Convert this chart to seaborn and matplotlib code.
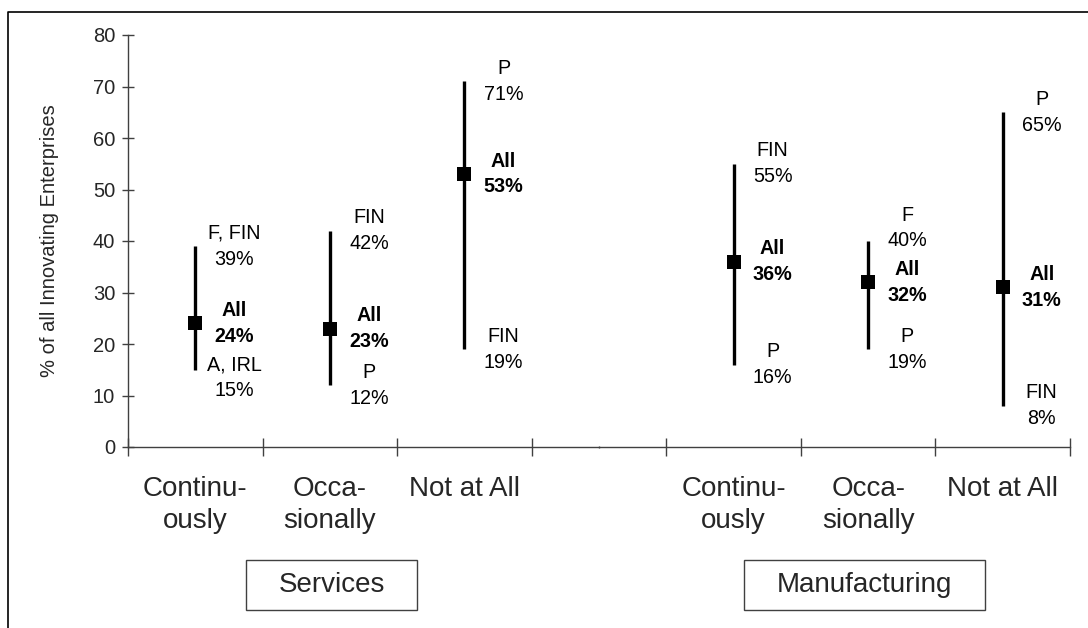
import numpy as np
import pandas as pd
import matplotlib
matplotlib.use("Agg")
import matplotlib.pyplot as plt
from matplotlib.patches import Rectangle
from matplotlib.lines import Line2D
import seaborn as sns

# ---------------- data ----------------
groups = ["Services", "Manufacturing"]
categories = ["Continu-\nously", "Occa-\nsionally", "Not at All"]
all_values = [24, 23, 53, 36, 32, 31]
high_values = [39, 42, 71, 55, 40, 65]
high_labels = ["F, FIN", "FIN", "P", "FIN", "F", "P"]
low_values = [15, 12, 19, 16, 19, 8]
low_labels = ["A, IRL", "P", "FIN", "P", "P", "FIN"]
y_ticks = [0, 10, 20, 30, 40, 50, 60, 70, 80]
y_label = "% of all Innovating Enterprises"

# ---------------- style ----------------
sns.set_theme(style="white")
plt.rcParams["font.family"] = ["Liberation Sans", "DejaVu Sans"]

W, H = 1088, 628
fig = plt.figure(figsize=(W / 100, H / 100), dpi=100)
ax = fig.add_axes([128 / W, 1 - 447 / H, 942 / W, 412 / H])

# x positions: each group has its categories, with one empty slot between groups
n_cat = len(categories)
positions = [g * (n_cat + 1) + c for g in range(len(groups)) for c in range(n_cat)]
df = pd.DataFrame({
    "x": positions,
    "all": all_values,
    "high": high_values,
    "low": low_values,
})

ax.vlines(df["x"], df["low"], df["high"], color="black", lw=2.4, zorder=2)
sns.scatterplot(data=df, x="x", y="all", marker="s", s=110, color="black",
                edgecolor="black", linewidth=0, ax=ax, zorder=3, legend=False)

# annotations
fs_ann = 14.2
dx = 0.29
min_sep = 10.5
for x, a, hv, hl, lv, ll in zip(positions, all_values, high_values, high_labels,
                                low_values, low_labels):
    ax.text(x + dx, a, f"All\n{a}%", ha="center", va="center", fontsize=fs_ann,
            fontweight="bold", linespacing=1.45, color="black")
    yh = max(hv, a + min_sep)
    ax.text(x + dx, yh, f"{hl}\n{hv}%", ha="center", va="center", fontsize=fs_ann,
            linespacing=1.45, color="black")
    yl = min(lv, a - min_sep)
    ax.text(x + dx, yl, f"{ll}\n{lv}%", ha="center", va="center", fontsize=fs_ann,
            linespacing=1.45, color="black")

# axes
total_slots = len(groups) * (n_cat + 1) - 1
ax.set_xlim(-0.5, total_slots - 0.5)
ax.set_ylim(0, 80)
ax.set_yticks(y_ticks)
ax.set_yticklabels([str(t) for t in y_ticks])

gap_pos = n_cat
major = sorted(list(np.arange(-0.5, total_slots, 1.0)) + [gap_pos])
ax.set_xticks(major)
ax.set_xticklabels([""] * len(major))
ax.set_xticks(positions, minor=True)
ax.set_xticklabels(categories * len(groups), minor=True)

for s in ["top", "right"]:
    ax.spines[s].set_visible(False)
for s in ["left", "bottom"]:
    ax.spines[s].set_color("#404040")
    ax.spines[s].set_linewidth(1.0)

ax.tick_params(axis="y", which="major", direction="inout", length=8.6, width=1,
               color="#404040", labelsize=14.5, pad=5, left=True)
ax.tick_params(axis="x", which="major", direction="inout", length=12.5, width=1,
               color="#404040", bottom=True)
ax.tick_params(axis="x", which="minor", length=0, labelsize=20, pad=21, bottom=True)
for lab in ax.get_xticklabels(minor=True):
    lab.set_linespacing(1.3)

# tiny tick in the gap
for t, v in zip(ax.xaxis.get_major_ticks(), major):
    if v == gap_pos:
        t.tick1line.set_markersize(2)

ax.set_ylabel(y_label, fontsize=14.5, labelpad=24)
ax.set_xlabel("")

# group boxes
box_specs = [(246, 560, 171, 50), (744, 560, 241, 50)]
for (bx, by, bw, bh), name in zip(box_specs, groups):
    fig.patches.append(Rectangle((bx / W, 1 - (by + bh) / H), bw / W, bh / H,
                                 transform=fig.transFigure, fill=False,
                                 edgecolor="#404040", lw=1.0))
    fig.text((bx + bw / 2) / W, 1 - (by + bh / 2) / H, name, ha="center",
             va="center", fontsize=20)

# outer frame (left and top)
fig.lines.append(Line2D([8 / W, 8 / W, 1.0], [0.0, 1 - 12 / H, 1 - 12 / H],
                        transform=fig.transFigure, color="black", lw=1.2))

fig.savefig("out.png", dpi=100)
